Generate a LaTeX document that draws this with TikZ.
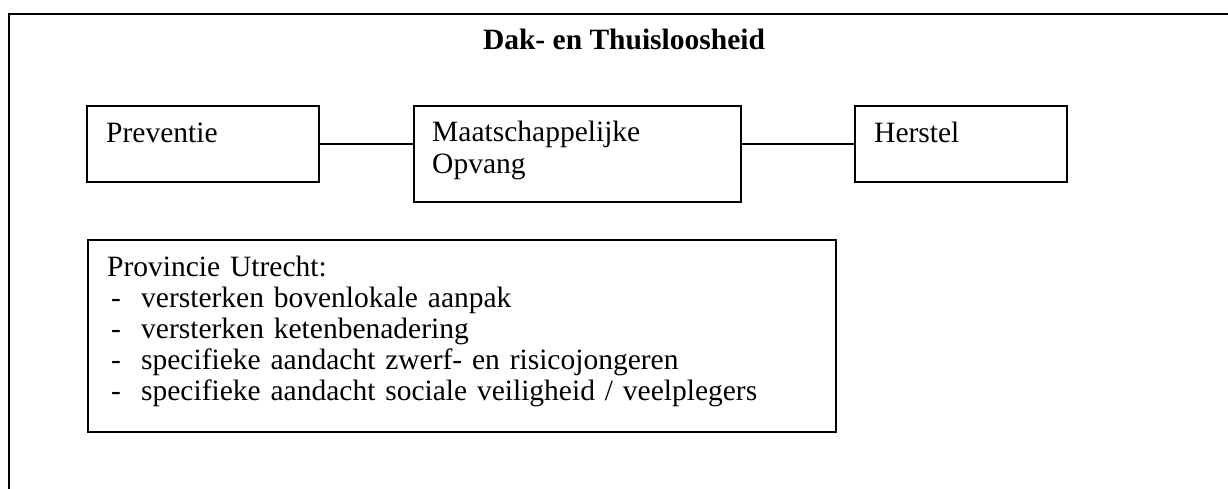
\documentclass[tikz,border=0pt]{standalone}
\usepackage{fontspec}
\setmainfont{Liberation Serif}
\usetikzlibrary{positioning}

\tikzset{
  box/.style={draw, line width=1.8pt, inner sep=0pt, anchor=north west},
  boxtext/.style={anchor=base west, inner sep=0pt, align=left, font=\fontsize{29.5}{31.2}\selectfont},
  link/.style={line width=1.4pt},
}
\newcommand{\listdash}{\hspace*{4pt}\makebox[30pt][l]{-}}

\begin{document}
\begin{tikzpicture}[x=1pt,y=1pt,yscale=-1,xscale=1]
\useasboundingbox (0,0) rectangle (1228,489);

%Shape: Frame [left and top]
\draw [line width=2pt] (9,489) -- (9,14) -- (1228,14) ;

%Shape: Rectangle [Preventie]
\node [box, minimum width=232pt, minimum height=76pt] (preventie) at (86,105) {};
%Shape: Rectangle [Maatschappelijke Opvang]
\node [box, minimum width=327pt, minimum height=96pt] (opvang) at (413,105) {};
%Shape: Rectangle [Herstel]
\node [box, minimum width=212pt, minimum height=76pt] (herstel) at (854,105) {};
%Shape: Rectangle [Provincie Utrecht]
\node [box, minimum width=748pt, minimum height=192pt] (provincie) at (87,239) {};

%Straight Lines
\draw [link] (preventie.east) -- (preventie.east -| opvang.west) ;
%Straight Lines
\draw [link] (herstel.west) -- (herstel.west -| opvang.east) ;

% Text Node
\node [boxtext, anchor=base, font=\fontsize{29.5}{31.2}\selectfont\bfseries] (titel) at (624,50) {Dak- en Thuisloosheid};
% Text Node
\node [boxtext] (preventietxt) at (106,143) {Preventie};
% Text Node
\node [boxtext, text width=300pt] (opvangtxt) at (432,142) {Maatschappelijke\\Opvang};
% Text Node
\node [boxtext] (hersteltxt) at (874,143) {Herstel};
% Text Node
\node [boxtext, text width=700pt] (provincietxt) at (107,276) {Provincie Utrecht:\\
\listdash versterken bovenlokale aanpak\\
\listdash versterken ketenbenadering\\
\listdash specifieke aandacht zwerf- en risicojongeren\\
\listdash specifieke aandacht sociale veiligheid / veelplegers};

\end{tikzpicture}
\end{document}
